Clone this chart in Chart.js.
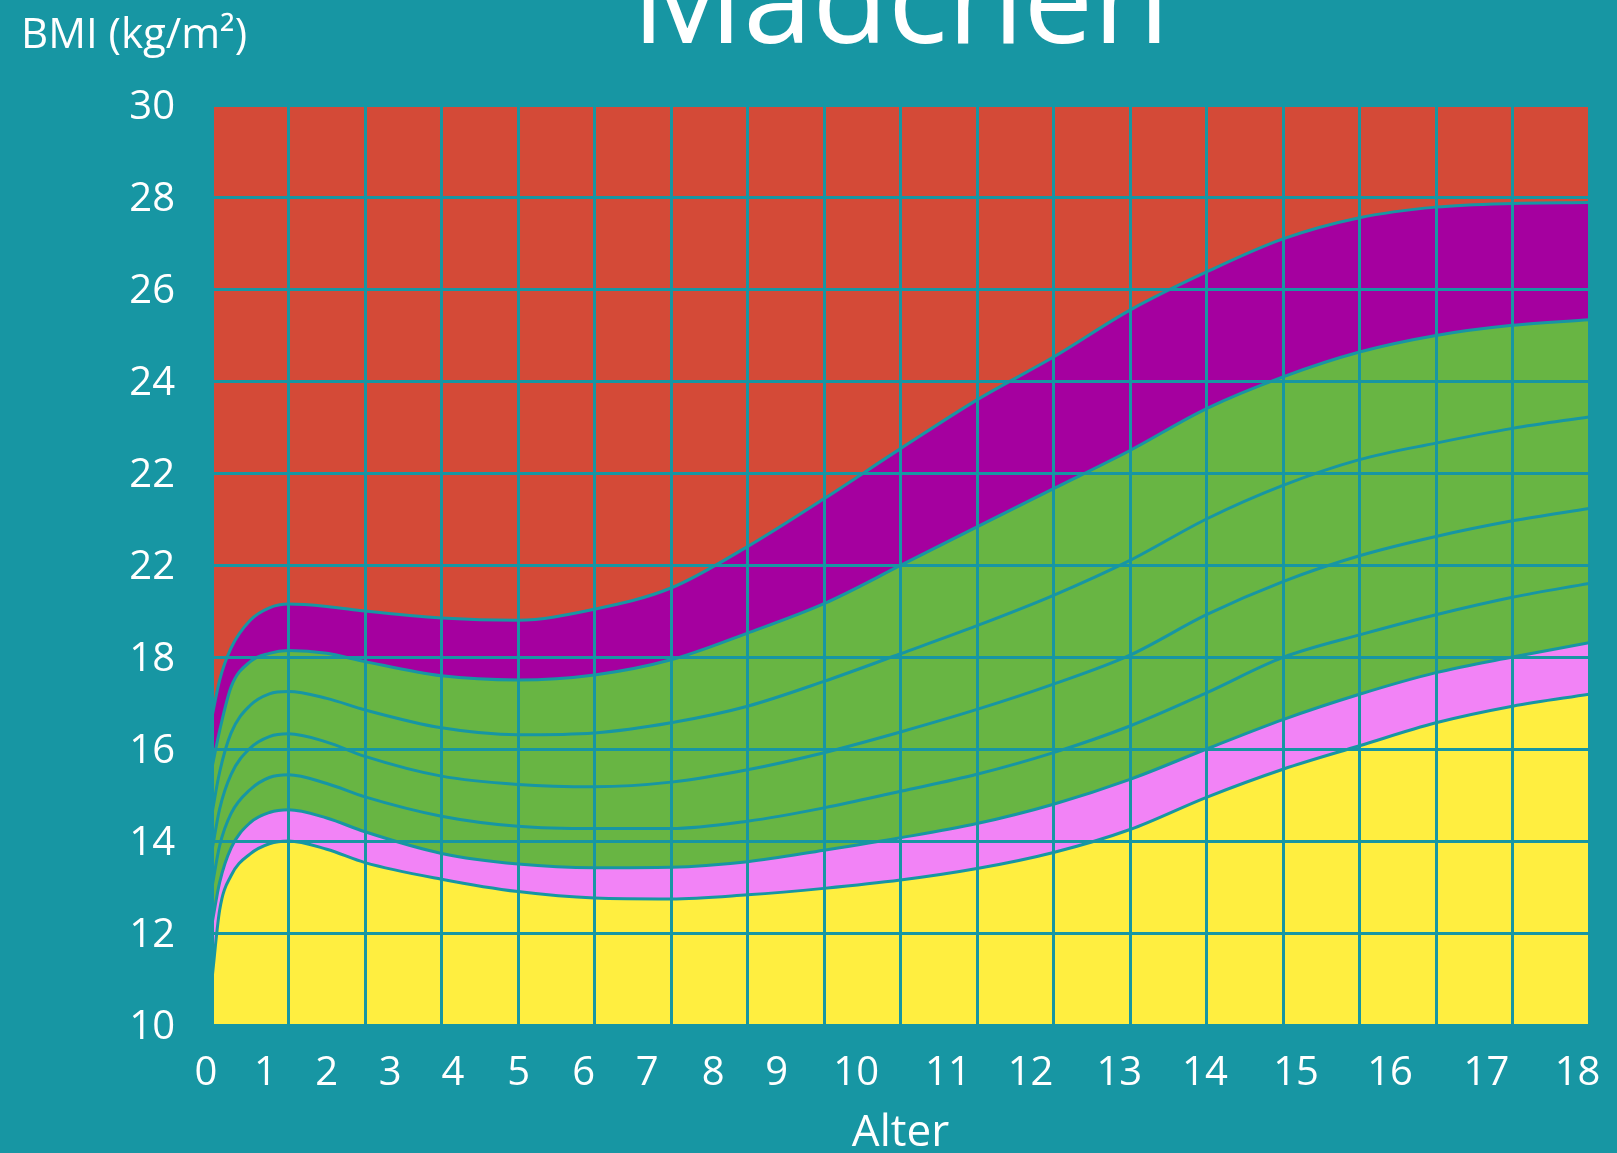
<!DOCTYPE html>
<html><head><meta charset="utf-8">
<script src="https://cdn.jsdelivr.net/npm/chart.js@4.4.1/dist/chart.umd.min.js"></script>
<style>html,body{margin:0;padding:0;background:#1796a3;overflow:hidden}#wrap{width:1617px;height:1153px;position:relative}</style>
</head><body><div id="wrap"><canvas id="c"></canvas></div>
<script>
// Age (years) of each sampled point
const ages = [0, 0.1, 0.25, 0.5, 0.75, 1, 1.5, 2, 3, 4, 5, 6, 7, 8, 9, 10, 11, 12, 13, 14, 15, 16, 17, 18];
// BMI percentile curves (top to bottom)
const curveA = [16.7, 17.5, 18.2, 18.8, 19.07, 19.15, 19.1, 19.0, 18.85, 18.8, 19.04, 19.5, 20.4, 21.44, 22.53, 23.59, 24.52, 25.54, 26.37, 27.09, 27.55, 27.78, 27.86, 27.88];
const curveB = [15.6, 16.4, 17.35, 17.9, 18.08, 18.14, 18.08, 17.9, 17.59, 17.5, 17.61, 17.94, 18.52, 19.16, 19.99, 20.83, 21.66, 22.49, 23.4, 24.09, 24.63, 24.99, 25.21, 25.33];
const curveC = [14.6, 15.5, 16.35, 16.95, 17.2, 17.25, 17.1, 16.85, 16.46, 16.31, 16.35, 16.57, 16.93, 17.47, 18.07, 18.68, 19.34, 20.1, 21.0, 21.73, 22.29, 22.65, 22.97, 23.22];
const curveD = [13.8, 14.7, 15.45, 16.02, 16.27, 16.33, 16.15, 15.84, 15.41, 15.23, 15.18, 15.28, 15.55, 15.92, 16.37, 16.86, 17.41, 18.04, 18.92, 19.64, 20.2, 20.62, 20.96, 21.23];
const curveE = [13.0, 13.9, 14.6, 15.12, 15.38, 15.44, 15.25, 14.96, 14.54, 14.32, 14.27, 14.27, 14.43, 14.72, 15.08, 15.45, 15.92, 16.5, 17.22, 17.99, 18.48, 18.92, 19.3, 19.6];
const curveF = [12.2, 13.1, 13.85, 14.4, 14.62, 14.68, 14.5, 14.2, 13.73, 13.5, 13.42, 13.43, 13.55, 13.8, 14.07, 14.38, 14.8, 15.34, 16.0, 16.64, 17.19, 17.66, 18.0, 18.31];
const curveG = [11.0, 12.5, 13.25, 13.72, 13.94, 14.0, 13.82, 13.53, 13.17, 12.9, 12.76, 12.74, 12.83, 12.97, 13.15, 13.4, 13.75, 14.25, 14.95, 15.56, 16.07, 16.57, 16.93, 17.19];
// Tick labels as printed in the picture
const yTickLabels = ['10', '12', '14', '16', '18', '22', '22', '24', '26', '28', '30'];
const xTickLabels = ['0','1','2','3','4','5','6','7','8','9','10','11','12','13','14','15','16','17','18'];
// where each age label stands along the age axis in the picture
const xTickLabelAges = [-0.08, 0.70, 1.50, 2.33, 3.15, 4.01, 4.86, 5.69, 6.55, 7.38, 8.42, 9.62, 10.70, 11.86, 12.98, 14.17, 15.40, 16.66, 17.85];
const titleText = 'Mädchen';
const yTitleText = 'BMI (kg/m²)';
const xTitleText = 'Alter';

const TEAL = '#1796a3';
const FONT = "'Open Sans', 'DejaVu Sans', sans-serif";
const pts = arr => arr.map((v, i) => ({x: ages[i], y: v}));
const line = (data, fill, bg, bw) => ({
  data: pts(data), fill: fill, backgroundColor: bg, borderColor: TEAL,
  borderWidth: bw === undefined ? 3 : bw, pointRadius: 0, cubicInterpolationMode: 'monotone'
});

const bgPlugin = {
  id: 'bg',
  beforeDraw(chart) {
    const ctx = chart.ctx;
    ctx.save(); ctx.fillStyle = TEAL; ctx.fillRect(0, 0, chart.width, chart.height); ctx.restore();
  }
};

new Chart(document.getElementById('c'), {
  type: 'line',
  data: {
    datasets: [
      line(curveA, 'end', '#d44a37'),
      line(curveB, 0, '#a5009f'),
      line(curveC, false, 'transparent'),
      line(curveD, false, 'transparent'),
      line(curveE, false, 'transparent'),
      line(curveF, 1, '#68b543'),
      line(curveG, 5, '#f283f6'),
      line(curveG, 'start', '#ffee40', 0)
    ]
  },
  options: {
    responsive: true, maintainAspectRatio: false, animation: false, devicePixelRatio: 1,
    layout: {padding: {left: 21, right: 28, top: 0, bottom: 0}},
    plugins: {
      legend: {display: false}, tooltip: {enabled: false},
      title: {display: true, text: titleText, fullSize: false, color: '#ffffff',
        font: {family: FONT, size: 124, weight: 'normal', lineHeight: 1}, padding: {top: -54, bottom: -70}},
      subtitle: {display: true, text: yTitleText, align: 'start', fullSize: true, color: '#ffffff',
        font: {family: FONT, size: 42, weight: 'normal', lineHeight: 1}, padding: {top: 15, bottom: 48}}
    },
    scales: {
      x: {type: 'linear', min: 0, max: 18,
        ticks: {display: false, stepSize: 1},
        grid: {color: TEAL, lineWidth: 3, drawTicks: false, z: 1},
        border: {display: false},
        afterFit: a => { a.height = 0; a.paddingLeft = 0; a.paddingRight = 0; }
      },
      xl: {type: 'linear', position: 'bottom', min: 0, max: 18,
        grid: {display: false, drawTicks: false}, border: {display: false},
        afterBuildTicks: a => { a.ticks = xTickLabelAges.map(v => ({value: v})); },
        ticks: {autoSkip: false, maxRotation: 0, padding: 29, color: '#ffffff',
          font: {family: FONT, size: 40, lineHeight: 1},
          callback: (v, i) => xTickLabels[i]},
        title: {display: true, text: xTitleText, color: '#ffffff',
          font: {family: FONT, size: 44, lineHeight: 1}, padding: {top: 0, bottom: -2}},
        afterFit: a => { a.height = 128; a.paddingLeft = 0; a.paddingRight = 0; }
      },
      y: {type: 'linear', min: 10, max: 30,
        ticks: {stepSize: 2, padding: 37, labelOffset: 3, color: '#ffffff',
          font: {family: FONT, size: 40, lineHeight: 1},
          callback: (v, i) => yTickLabels[i]},
        grid: {color: TEAL, lineWidth: 3, drawTicks: false, z: 1},
        border: {display: false},
        afterFit: a => { a.width = 191; a.paddingTop = 0; a.paddingBottom = 0; }
      }
    }
  },
  plugins: [bgPlugin]
});
</script></body></html>
